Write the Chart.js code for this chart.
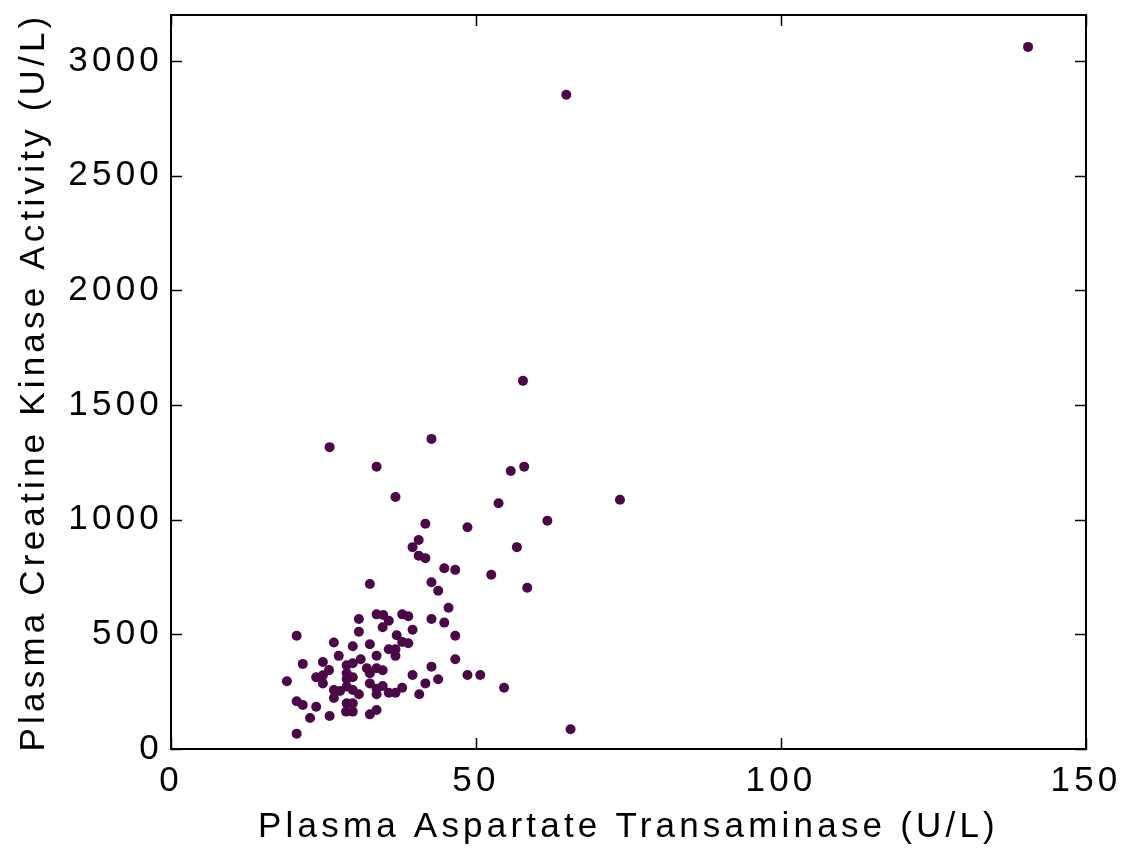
<!DOCTYPE html>
<html>
<head>
<meta charset="utf-8">
<script src="https://cdn.jsdelivr.net/npm/chart.js@4.4.1/dist/chart.umd.min.js"></script>
<style>
  html, body { margin: 0; padding: 0; background: #fff; }
  #wrap { width: 1124px; height: 849px; }
</style>
</head>
<body>
<div id="wrap"><canvas id="ck"></canvas></div>
<script>
// ============ data ============
var astValues = [140.5, 64.8, 57.7, 26.0, 42.7, 33.7, 55.7, 57.9, 36.8, 53.7,
  73.6, 61.7, 41.7, 48.6, 56.7, 40.6, 39.6, 40.6, 41.7, 44.8,
  46.6, 52.5, 32.6, 42.7, 43.8, 45.5, 33.7, 34.8, 35.7, 37.9,
  38.9, 30.8, 42.7, 44.8, 34.7, 39.6, 30.8, 46.6, 20.6, 37.0,
  26.7, 29.8, 32.6, 37.9, 38.9, 35.7, 36.8, 36.8, 27.5, 33.7,
  31.1, 46.6, 24.9, 21.6, 28.8, 29.8, 25.9, 32.1, 32.6, 33.7,
  34.7, 42.7, 28.8, 23.8, 24.9, 39.6, 48.6, 50.7, 19.0, 24.9,
  28.8, 29.8, 32.6, 43.8, 41.7, 34.7, 33.7, 37.9, 28.8, 26.7,
  27.7, 29.8, 30.8, 35.7, 36.8, 33.7, 40.7, 54.6, 20.6, 21.6,
  26.7, 28.8, 29.8, 23.8, 28.7, 29.8, 33.7, 32.6, 22.8, 26.0,
  20.6, 58.4, 65.5];

var ckValues = [3061, 2852, 1605, 1316, 1352, 1231, 1212, 1231, 1099, 1071,
  1087, 995, 982, 967, 880, 911, 880, 843, 832, 788,
  781, 760, 719, 727, 690, 616, 587, 584, 559, 587,
  579, 567, 567, 551, 531, 520, 511, 494, 494, 496,
  464, 448, 457, 467, 461, 435, 435, 406, 406, 407,
  391, 391, 379, 371, 365, 374, 344, 352, 330, 352,
  343, 359, 330, 313, 321, 323, 323, 323, 295, 286,
  305, 313, 286, 304, 286, 275, 263, 267, 272, 257,
  253, 257, 239, 245, 245, 239, 239, 267, 208, 192,
  222, 199, 199, 184, 163, 163, 170, 151, 135, 144,
  67, 703, 86];

var xTicks = [0, 50, 100, 150];
var yTicks = [0, 500, 1000, 1500, 2000, 2500, 3000];

var xTitle = 'Plasma Aspartate Transaminase (U/L)';
var yTitle = 'Plasma Creatine Kinase Activity (U/L)';

// build points for the scatter
var points = astValues.map(function (v, i) {
  return { x: v, y: ckValues[i] };
});

var FONT = "'Liberation Sans', Arial, Helvetica, sans-serif";

// letter spacing on the canvas text (the original text is spaced wide)
var spacingPlugin = {
  id: 'spacing',
  beforeLayout: function (chart) { chart.ctx.letterSpacing = '4.2px'; },
  beforeDraw: function (chart) { chart.ctx.letterSpacing = '4.2px'; }
};

// box round the plot with ticks pointing inward on all four sides
var boxPlugin = {
  id: 'box',
  afterDraw: function (chart) {
    var ctx = chart.ctx;
    var a = chart.chartArea;
    var xs = chart.scales.x, ys = chart.scales.y;
    var len = 11;
    ctx.save();
    ctx.strokeStyle = '#000';
    ctx.lineWidth = 2;
    ctx.strokeRect(a.left, a.top, a.right - a.left, a.bottom - a.top);
    ctx.lineWidth = 1.5;
    ctx.beginPath();
    xTicks.forEach(function (v) {
      var px = Math.round(xs.getPixelForValue(v)) + 0.5;
      ctx.moveTo(px, a.bottom); ctx.lineTo(px, a.bottom - len);
      ctx.moveTo(px, a.top); ctx.lineTo(px, a.top + len);
    });
    yTicks.forEach(function (v) {
      var py = Math.round(ys.getPixelForValue(v)) + 0.5;
      ctx.moveTo(a.left, py); ctx.lineTo(a.left + len, py);
      ctx.moveTo(a.right, py); ctx.lineTo(a.right - len, py);
    });
    ctx.stroke();
    ctx.restore();
  }
};

function plainLabel(value) { return String(value); }

var ctx = document.getElementById('ck');

var myChart = new Chart(ctx, {
  type: 'scatter',
  data: {
    datasets: [{
      label: 'CK vs AST',
      data: points,
      backgroundColor: '#4b0846',
      borderColor: '#4b0846',
      borderWidth: 0,
      pointRadius: 5,
      pointHoverRadius: 5
    }]
  },
  options: {
    responsive: true,
    maintainAspectRatio: false,
    animation: false,
    layout: { padding: { left: 0, right: 38, top: 15, bottom: 0 } },
    plugins: {
      legend: { display: false },
      tooltip: { enabled: false }
    },
    scales: {
      x: {
        type: 'linear',
        min: 0,
        max: 150,
        afterBuildTicks: function (s) { s.ticks = xTicks.map(function (v) { return { value: v }; }); },
        afterFit: function (s) { s.height = 100; s.paddingLeft = 0; s.paddingRight = 0; },
        grid: { display: false, drawTicks: false },
        border: { display: false },
        ticks: {
          padding: 11,
          color: '#000',
          maxRotation: 0,
          callback: plainLabel,
          font: { family: FONT, size: 35 }
        },
        title: {
          display: true,
          text: xTitle,
          color: '#000',
          padding: { top: 0, bottom: 1 },
          font: { family: FONT, size: 35 }
        }
      },
      y: {
        type: 'linear',
        min: 0,
        max: 3200,
        afterBuildTicks: function (s) { s.ticks = yTicks.map(function (v) { return { value: v }; }); },
        afterFit: function (s) { s.width = 171; s.paddingTop = 0; s.paddingBottom = 0; },
        grid: { display: false, drawTicks: false },
        border: { display: false },
        ticks: {
          padding: 8,
          color: '#000',
          callback: plainLabel,
          font: { family: FONT, size: 35 }
        },
        title: {
          display: true,
          text: yTitle,
          color: '#000',
          padding: { top: 13, bottom: 0 },
          font: { family: FONT, size: 35 }
        }
      }
    }
  },
  plugins: [spacingPlugin, boxPlugin]
});
</script>
</body>
</html>
